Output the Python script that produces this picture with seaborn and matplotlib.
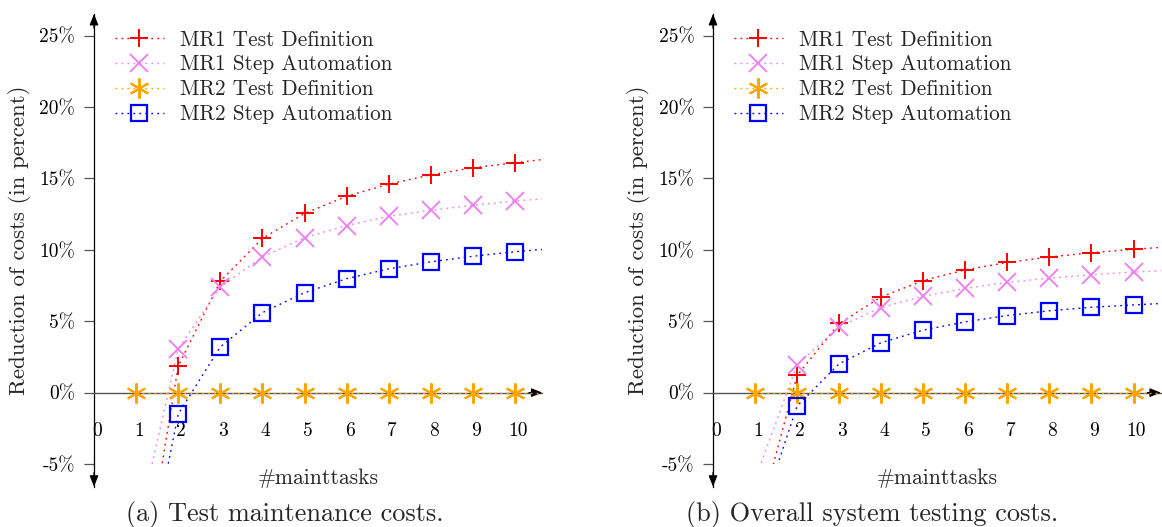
import numpy as np
import pandas as pd
import matplotlib
matplotlib.use("Agg")
import matplotlib.pyplot as plt
import matplotlib.transforms as mtrans
from matplotlib.patches import Rectangle
from matplotlib.lines import Line2D
import seaborn as sns

sns.set_theme(style="white")
plt.rcParams["font.family"] = ["cmr10", "DejaVu Serif"]
plt.rcParams["axes.unicode_minus"] = False
plt.rcParams["mathtext.fontset"] = "cm"

# ---------------- data ----------------
tasks = [1, 2, 3, 4, 5, 6, 7, 8, 9, 10, 11]
series_names = ["MR1 Test Definition", "MR1 Step Automation",
                "MR2 Test Definition", "MR2 Step Automation"]

# (a) Test maintenance costs (percent)
a_mr1_test_def = [-16.0, 1.85, 7.8, 10.8, 12.55, 13.75, 14.6, 15.25, 15.75, 16.1, 16.45]
a_mr1_step_aut = [-9.9, 3.05, 7.4, 9.5, 10.85, 11.7, 12.35, 12.78, 13.12, 13.42, 13.65]
a_mr2_test_def = [0, 0, 0, 0, 0, 0, 0, 0, 0, 0, 0]
a_mr2_step_aut = [-16.2, -1.5, 3.2, 5.6, 7.0, 7.98, 8.67, 9.16, 9.55, 9.87, 10.12]

# (b) Overall system testing costs (percent)
b_mr1_test_def = [-9.8, 1.2, 4.85, 6.7, 7.85, 8.6, 9.12, 9.5, 9.8, 10.04, 10.24]
b_mr1_step_aut = [-6.1, 1.95, 4.6, 5.96, 6.75, 7.3, 7.72, 8.02, 8.26, 8.44, 8.6]
b_mr2_test_def = [0, 0, 0, 0, 0, 0, 0, 0, 0, 0, 0]
b_mr2_step_aut = [-9.8, -0.94, 2.02, 3.5, 4.38, 4.96, 5.4, 5.73, 5.98, 6.14, 6.3]

xtick_vals = [0, 1, 2, 3, 4, 5, 6, 7, 8, 9, 10]
ytick_vals = [-5, 0, 5, 10, 15, 20, 25]
ytick_labels = ["-5%", "0%", "5%", "10%", "15%", "20%", "25%"]
captions = ["(a) Test maintenance costs.", "(b) Overall system testing costs."]
xlabel_text = "#mainttasks"
ylabel_text = "Reduction of costs (in percent)"

# ---------------- styles ----------------
colors = ["#ff0000", "#ee82ee", "#ffa500", "#0000ff"]
markers = ["+", "x", (6, 2, 0), "s"]
msizes = [12.5, 12.5, 14.5, 12.0]
mews = [1.4, 1.4, 1.5, 1.6]
mark_idx = [list(range(1, 10)), list(range(1, 10)), list(range(0, 10)), list(range(1, 10))]
dotted = (0, (1.3, 3.0))

W, H = 1162, 527
fig = plt.figure(figsize=(W / 100, H / 100), dpi=100)

XMAX = 10.65
YMIN, YMAX = -6.59, 26.52
FS_TICK = 14.0
FS_LEG = 15.3
FS_XLAB = 15.5
FS_YLAB = 16.5
FS_CAP = 18.9


def px_axes(left, top, width, height):
    return fig.add_axes([left / W, 1 - (top + height) / H, width / W, height / H])


panels = [
    dict(left=94, xscale=42.1, data=[a_mr1_test_def, a_mr1_step_aut, a_mr2_test_def, a_mr2_step_aut],
         cap_x=285, ylab_x=19.5),
    dict(left=713, xscale=42.05, data=[b_mr1_test_def, b_mr1_step_aut, b_mr2_test_def, b_mr2_step_aut],
         cap_x=872, ylab_x=638.5),
]

for p in panels:
    axw = XMAX * p["xscale"]
    ax = px_axes(p["left"], 14, axw, 472.7)
    ax.patch.set_alpha(0)

    # clip region: inside the x range and above -5 %
    clip_rect = Rectangle((-0.5, -5), XMAX + 0.5, YMAX + 5, transform=ax.transData)
    for i, vals in enumerate(p["data"]):
        sns.lineplot(x=tasks, y=vals, ax=ax, color=colors[i], linestyle=dotted,
                     linewidth=1.0, marker=markers[i], markevery=mark_idx[i],
                     markersize=msizes[i], markeredgewidth=mews[i],
                     markeredgecolor=colors[i], markerfacecolor="none",
                     legend=False, errorbar=None, zorder=3 + i)
        ax.lines[-1].set_clip_path(clip_rect)

    ax.set_xlim(0, XMAX)
    ax.set_ylim(YMIN, YMAX)

    for sp in ["top", "right"]:
        ax.spines[sp].set_visible(False)
    ax.spines["left"].set_color("black")
    ax.spines["left"].set_linewidth(0.9)
    ax.spines["bottom"].set_position(("data", 0))
    ax.spines["bottom"].set_color("#555555")
    ax.spines["bottom"].set_linewidth(1.0)

    # axis arrows
    ap = dict(arrowstyle="-|>,head_length=0.55,head_width=0.22", color="black",
              lw=0.9, shrinkA=0, shrinkB=0)
    ax.annotate("", xy=(1.0, 0), xytext=(0.97, 0),
                xycoords=("axes fraction", "data"), textcoords=("axes fraction", "data"),
                arrowprops=ap, annotation_clip=False)
    ax.annotate("", xy=(0, 1.0), xytext=(0, 0.97),
                xycoords=("data", "axes fraction"), textcoords=("data", "axes fraction"),
                arrowprops=ap, annotation_clip=False)
    ax.annotate("", xy=(0, 0.0), xytext=(0, 0.03),
                xycoords=("data", "axes fraction"), textcoords=("data", "axes fraction"),
                arrowprops=ap, annotation_clip=False)

    ax.set_xticks(xtick_vals)
    ax.set_xticklabels([str(v) for v in xtick_vals])
    ax.set_yticks(ytick_vals)
    ax.set_yticklabels(ytick_labels)
    ax.tick_params(axis="y", direction="out", length=7.2, width=0.9, color="#555555",
                   pad=6.3, labelsize=FS_TICK, labelcolor="black", left=True)
    ax.tick_params(axis="x", direction="out", length=2.2, width=0.8, color="#555555",
                   pad=19.0, labelsize=FS_TICK, labelcolor="black", bottom=True)
    off = mtrans.ScaledTranslation(3 / 100, 0, fig.dpi_scale_trans)
    for lbl in ax.get_xticklabels():
        lbl.set_transform(lbl.get_transform() + off)
    ax.set_xlabel("")
    ax.set_ylabel("")
    ax.grid(False)

    handles = [Line2D([], [], color=colors[i], linestyle=dotted, linewidth=1.0,
                      marker=markers[i], markersize=msizes[i], markeredgewidth=mews[i],
                      markeredgecolor=colors[i], markerfacecolor="none")
               for i in range(4)]
    leg = ax.legend(handles, series_names, loc="upper left",
                    bbox_to_anchor=(21 / axw, 1 - (30.0 - 14) / 472.7),
                    frameon=False, handlelength=2.3, handletextpad=0.75,
                    labelspacing=0.25, borderaxespad=0, borderpad=0,
                    fontsize=FS_LEG, numpoints=1)

    axes_cx = p["left"] + axw / 2
    fig.text(axes_cx / W, 1 - 484.3 / H, xlabel_text, ha="center", va="baseline",
             fontsize=FS_XLAB)
    fig.text(p["ylab_x"] / W, 1 - 240 / H, ylabel_text, ha="center", va="center",
             rotation=90, fontsize=FS_YLAB)

for p, cap in zip(panels, captions):
    fig.text(p["cap_x"] / W, 1 - 521.5 / H, cap, ha="center", va="baseline", fontsize=FS_CAP)

fig.savefig("out.png", dpi=100)
